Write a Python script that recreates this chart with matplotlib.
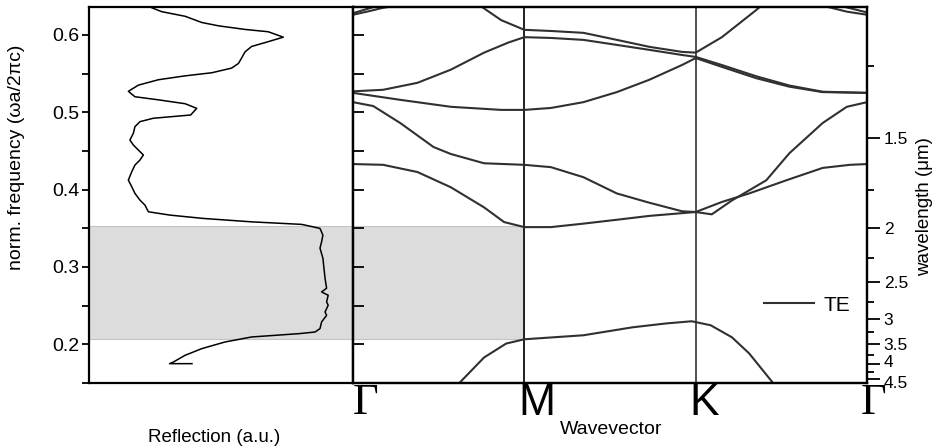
import matplotlib
matplotlib.use("Agg")
import matplotlib.pyplot as plt
import matplotlib.transforms as mtransforms
from matplotlib.ticker import MultipleLocator, FixedLocator, NullFormatter

plt.rcParams['font.family'] = ['Liberation Sans', 'DejaVu Sans']

# --- measured reflection spectrum (left panel) ---
refl_f = [0.636, 0.630, 0.624, 0.616, 0.6117, 0.607, 0.604, 0.597, 0.590, 0.585,
          0.578, 0.570, 0.563, 0.557, 0.551, 0.547, 0.542, 0.535, 0.527, 0.520,
          0.516, 0.511, 0.505, 0.4964, 0.4922, 0.4878, 0.4813, 0.4728, 0.4641, 0.4576,
          0.4511, 0.4447, 0.4382, 0.4317, 0.4231, 0.4123, 0.4036, 0.3951, 0.3864, 0.3799,
          0.3713, 0.367, 0.3627, 0.3583, 0.355, 0.3519, 0.3498, 0.3411, 0.3324, 0.3243,
          0.3113, 0.2984, 0.2854, 0.2725, 0.2677, 0.2634, 0.2548, 0.2505, 0.2418, 0.2375,
          0.2289, 0.2203, 0.2159, 0.2139, 0.2125, 0.2095, 0.203, 0.1944, 0.1858, 0.177,
          0.175, 0.175]
refl_r = [0.231, 0.275, 0.364, 0.427, 0.490, 0.591, 0.679, 0.736, 0.667, 0.616,
          0.591, 0.578, 0.566, 0.540, 0.465, 0.364, 0.263, 0.187, 0.149, 0.174,
          0.263, 0.364, 0.408, 0.385, 0.2436, 0.193, 0.174, 0.168, 0.155, 0.168,
          0.187, 0.206, 0.193, 0.174, 0.162, 0.149, 0.162, 0.174, 0.193, 0.212,
          0.225, 0.307, 0.433, 0.616, 0.806, 0.848, 0.875, 0.886, 0.881, 0.875,
          0.886, 0.890, 0.894, 0.900, 0.881, 0.906, 0.900, 0.906, 0.894, 0.900,
          0.881, 0.875, 0.856, 0.799, 0.742, 0.616, 0.515, 0.427, 0.364, 0.319,
          0.305, 0.39]

# photonic band gap
gap_lo, gap_hi = 0.207, 0.353

# --- TE band structure (right panel), k: 0=Gamma, 1=M, 2=K, 3=Gamma ---
band1_k = [0.612, 0.765, 0.894, 1.0, 1.345, 1.632, 1.828, 1.977, 2.088, 2.212, 2.312, 2.459]
band1_f = [0.148, 0.183, 0.201, 0.2065, 0.2117, 0.222, 0.227, 0.2298, 0.2246, 0.209, 0.1883, 0.148]

band2_k = [0, 0.176, 0.376, 0.571, 0.765, 0.882, 1.0, 1.155, 1.345, 1.54, 1.73, 2.0]
band2_f = [0.433, 0.432, 0.4227, 0.403, 0.377, 0.358, 0.3515, 0.3515, 0.356, 0.361, 0.366, 0.371]

band3_k = [0, 0.118, 0.276, 0.47, 0.571, 0.765, 1.0, 1.155, 1.345, 1.54, 1.73, 1.92, 2.0]
band3_f = [0.513, 0.508, 0.486, 0.455, 0.446, 0.434, 0.432, 0.429, 0.416, 0.395, 0.383, 0.372, 0.371]

kg_a_k = [2.0, 2.094, 2.212, 2.312, 2.412, 2.547, 2.741, 2.882, 3.0]
kg_a_f = [0.371, 0.368, 0.386, 0.399, 0.412, 0.447, 0.486, 0.507, 0.513]
kg_b_k = [2.0, 2.153, 2.312, 2.529, 2.741, 2.9, 3.0]
kg_b_f = [0.371, 0.384, 0.395, 0.412, 0.428, 0.432, 0.433]

band4_k = [0, 0.276, 0.571, 0.865, 1.0, 1.155, 1.345, 1.54, 1.73, 1.92, 2.0]
band4_f = [0.525, 0.516, 0.507, 0.503, 0.503, 0.5055, 0.513, 0.526, 0.542, 0.561, 0.570]

band5_k = [0, 0.176, 0.376, 0.571, 0.765, 0.906, 1.0, 1.155, 1.345, 1.54, 1.73, 1.92, 2.0]
band5_f = [0.527, 0.529, 0.538, 0.555, 0.577, 0.590, 0.597, 0.596, 0.5935, 0.587, 0.5806, 0.574, 0.5715]

band6_k = [0.72, 0.865, 1.0, 1.155, 1.345, 1.54, 1.73, 1.92, 2.0, 2.153, 2.353, 2.40]
band6_f = [0.641, 0.619, 0.6065, 0.605, 0.6026, 0.5935, 0.5845, 0.578, 0.577, 0.597, 0.632, 0.641]

kg_c_k = [2.0, 2.153, 2.353, 2.547, 2.741, 3.0]
kg_c_f = [0.570, 0.5586, 0.544, 0.533, 0.526, 0.525]
kg_d_f = [0.5715, 0.561, 0.5465, 0.5345, 0.5265, 0.525]

top_e_k = [0, 0.082, 0.176, 0.33]
top_e_f = [0.626, 0.630, 0.635, 0.640]
top_f_k = [0, 0.18]
top_f_f = [0.628, 0.640]
top_g_k = [2.70, 2.882, 3.0]
top_g_f = [0.640, 0.630, 0.626]
top_h_k = [2.80, 3.0]
top_h_f = [0.640, 0.629]

kpts = [0, 1, 2, 3]
klabels = ['Γ', 'M', 'K', 'Γ']

lattice_a = 0.7  # um, wavelength = a / f
wl_major = [1.5, 2, 2.5, 3, 3.5, 4, 4.5]
wl_minor = [1.25, 1.75, 2.25, 2.75, 3.25, 3.75, 4.25]

ylim = (0.15, 0.636)
line_c = '#303030'
gap_c = '#dcdcdc'

W, H = 940, 448
fig = plt.figure(figsize=(W / 100, H / 100), dpi=100)
axL = fig.add_axes([89 / W, 65 / H, 264 / W, 376 / H])
axR = fig.add_axes([353 / W, 65 / H, 514 / W, 376 / H])

# left panel
axL.axhspan(gap_lo, gap_hi, facecolor=gap_c, edgecolor='#c4c4c4', lw=0.8, zorder=0)
axL.plot(refl_r, refl_f, color='black', lw=1.1)
axL.set_xlim(0, 1)
axL.set_ylim(*ylim)
axL.set_xticks([])
axL.yaxis.set_major_locator(MultipleLocator(0.1))
axL.yaxis.set_minor_locator(MultipleLocator(0.05))
axL.yaxis.set_major_formatter(lambda v, p: f'{v:.1f}')
axL.tick_params(axis='y', which='both', direction='out', length=5, width=1.3,
                labelsize=14, pad=2)

# right panel
axR.fill_between([0, 1], gap_lo, gap_hi, facecolor=gap_c, edgecolor='#c4c4c4',
                 lw=0.8, zorder=0)
axR.axvline(1, color='#202020', lw=1.4, zorder=1)
axR.axvline(2, color='#505050', lw=1.4, zorder=1)

bands = [(band1_k, band1_f), (band2_k, band2_f), (band3_k, band3_f),
         (kg_a_k, kg_a_f), (kg_b_k, kg_b_f), (band4_k, band4_f),
         (band5_k, band5_f), (band6_k, band6_f), (kg_c_k, kg_c_f),
         (kg_c_k, kg_d_f), (top_e_k, top_e_f), (top_f_k, top_f_f),
         (top_g_k, top_g_f), (top_h_k, top_h_f)]
te_line = None
for i, (k, f) in enumerate(bands):
    ln, = axR.plot(k, f, color=line_c, lw=1.5, zorder=2)
    if i == 0:
        te_line = ln

axR.set_xlim(0, 3)
axR.set_ylim(*ylim)
axR.yaxis.set_major_locator(MultipleLocator(0.1))
axR.yaxis.set_minor_locator(MultipleLocator(0.05))
axR.tick_params(axis='y', which='both', direction='in', length=8, width=1.3,
                labelleft=False)
axR.set_xticks(kpts)
axR.set_xticklabels(klabels, fontsize=32)
axR.tick_params(axis='x', length=0, pad=0)
offset = mtransforms.ScaledTranslation(-6 / 100, 0, fig.dpi_scale_trans)
for i, lab in enumerate(axR.get_xticklabels()):
    lab.set_horizontalalignment('left')
    if i > 0:
        lab.set_transform(lab.get_transform() + offset)
    if klabels[i] == 'Γ':
        lab.set_family(['Liberation Serif', 'DejaVu Serif'])

# wavelength axis
tw = axR.twinx()
tw.set_ylim(*ylim)
tw.yaxis.set_major_locator(FixedLocator([lattice_a / w for w in wl_major]))
tw.set_yticklabels([f'{w:g}' for w in wl_major])
tw.yaxis.set_minor_locator(FixedLocator([lattice_a / w for w in wl_minor]))
tw.yaxis.set_minor_formatter(NullFormatter())
tw.tick_params(axis='y', which='major', direction='out', length=9, width=1.3,
               labelsize=12.5, pad=3)
tw.tick_params(axis='y', which='minor', direction='out', length=5, width=1.3)
# the 4 and 4.5 ticks sit very close: nudge their labels apart a little
nudge = {4: 3, 4.5: -3}
for w, lab in zip(wl_major, tw.get_yticklabels()):
    if w in nudge:
        lab.set_transform(lab.get_transform() + mtransforms.ScaledTranslation(
            0, nudge[w] / 100, fig.dpi_scale_trans))

for ax in (axL, axR, tw):
    for sp in ax.spines.values():
        sp.set_linewidth(1.6)

tw.legend([te_line], ['TE'], loc='center left', bbox_to_anchor=(0.800, 0.2074),
          frameon=False, fontsize=15, handlelength=2.4, handletextpad=0.45,
          borderaxespad=0, borderpad=0)

fig.text(214 / W, 1 - 437 / H, 'Reflection (a.u.)', ha='center', va='center', fontsize=13.5)
fig.text(611 / W, 1 - 429 / H, 'Wavevector', ha='center', va='center', fontsize=14)
fig.text(17 / W, 1 - 157 / H, 'norm. frequency (ωa/2πc)', rotation=90,
         ha='center', va='center', fontsize=14)
fig.text(925 / W, 1 - 207 / H, 'wavelength (μm)', rotation=90,
         ha='center', va='center', fontsize=13.5)

fig.savefig('out.png', dpi=100)
